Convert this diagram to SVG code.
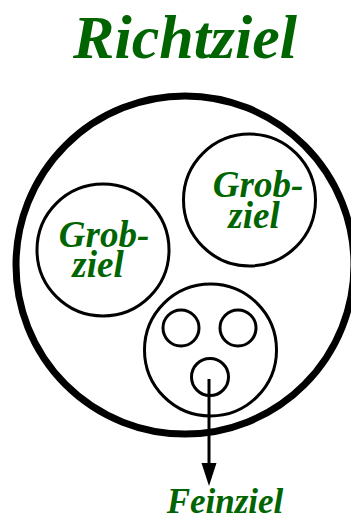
<svg xmlns="http://www.w3.org/2000/svg" width="351" height="519" viewBox="0 0 351 519">
<style>
.t{font-family:"Liberation Serif","Times New Roman",serif;font-weight:bold;font-style:italic;fill:#006400}
.c{fill:none;stroke:#000;stroke-width:3}
</style>
<rect width="351" height="519" fill="#fff"/>
<text class="t" x="185" y="58" font-size="62" text-anchor="middle">Richtziel</text>
<g id="richtziel"><circle cx="185" cy="265" r="169" fill="none" stroke="#000" stroke-width="7"/></g>
<g id="grobziel1"><circle class="c" cx="103" cy="250" r="66"/>
<text class="t" x="104" y="247" font-size="37" text-anchor="middle">Grob-</text>
<text class="t" x="98" y="277" font-size="37" text-anchor="middle">ziel</text></g>
<g id="grobziel2"><circle class="c" cx="249.5" cy="200" r="66"/>
<text class="t" x="258" y="197" font-size="37" text-anchor="middle">Grob-</text>
<text class="t" x="254" y="228" font-size="37" text-anchor="middle">ziel</text></g>
<g id="grobziel3"><circle class="c" cx="210.5" cy="350" r="66"/>
<circle class="c" cx="181" cy="328" r="18"/>
<circle class="c" cx="238" cy="328" r="18"/>
<circle class="c" cx="210" cy="377" r="18.5"/></g>
<g id="connectors">
<line x1="209" y1="379" x2="209" y2="465" stroke="#000" stroke-width="3"/>
<polygon points="201.5,463 216.5,463 209,486" fill="#000"/>
</g>
<g id="feinziel"><text class="t" x="225" y="513" font-size="35" text-anchor="middle">Feinziel</text></g>
</svg>
